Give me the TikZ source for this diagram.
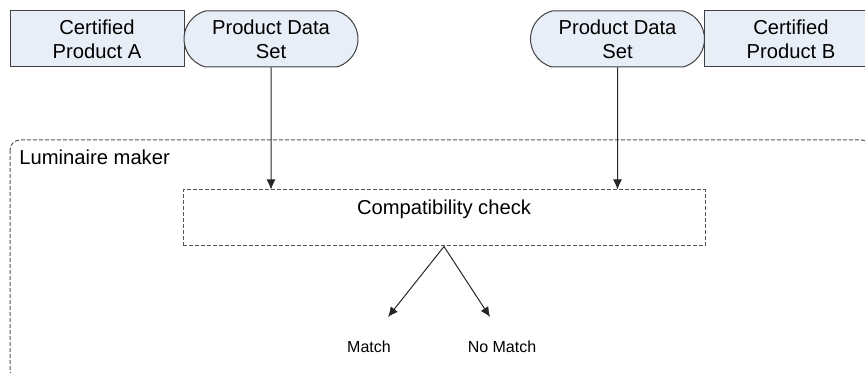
\documentclass[tikz,border=0pt]{standalone}
\usepackage{fontspec}
\setmainfont{Liberation Sans}
\usetikzlibrary{shapes.misc,arrows.meta}
\definecolor{boxfill}{RGB}{232,238,247}
\definecolor{dashgray}{RGB}{85,85,85}

\tikzset{
  certbox/.style={shape=rectangle,draw=black!75,fill=boxfill,line width=0.5pt,minimum width=87pt,minimum height=28pt,inner sep=0pt,align=center,font=\fontsize{10.1}{12}\selectfont},
  databox/.style={certbox,shape=rounded rectangle,rounded rectangle arc length=150},
  checkbox/.style={shape=rectangle,draw=dashgray,line width=0.5pt,dash pattern=on 2pt off 1pt,minimum width=261pt,minimum height=28pt,text height=7pt,text depth=10pt,font=\fontsize{10.1}{12}\selectfont},
  result/.style={inner sep=0pt,font=\fontsize{8}{9.6}\selectfont},
  frame/.style={draw=dashgray,line width=0.5pt,dash pattern=on 2pt off 1pt,rounded corners=5pt},
  flow/.style={line width=0.5pt,black!85}
}

\begin{document}
\begin{tikzpicture}[x=0.5pt,y=-0.5pt,>={Latex[length=5pt,width=4.5pt]}]
        \useasboundingbox (0,0) rectangle (865,373);
        \clip (0,0) rectangle (865,373);
        % luminaire maker area
        \draw[frame] (10,140) rectangle (872,380);
        \node[anchor=base west,inner sep=0pt,font=\fontsize{10.1}{12}\selectfont] (maker) at (19,165) {Luminaire maker};
        % certified products and their data sets
        \node[certbox] (certA) at (97,39) {Certified\\Product A};
        \node[databox] (dataA) at (271,39) {Product Data\\Set};
        \node[databox] (dataB) at (617.5,39) {Product Data\\Set};
        \node[certbox] (certB) at (791,39) {Certified\\Product B};
        % check and outcomes
        \node[checkbox] (check) at (444,218) {Compatibility check};
        \node[result] (match) at (369,347) {Match};
        \node[result] (nomatch) at (502,347) {No Match};
        \coordinate (matchtip) at (388,317);
        \coordinate (nomatchtip) at (490,317);
        \path [->,flow] (dataA) edge (dataA |- check.north);
        \path [->,flow] (dataB) edge (dataB |- check.north);
        \path [->,flow] (check.south) edge (matchtip);
        \path [->,flow] (check.south) edge (nomatchtip);
    \end{tikzpicture}
\end{document}
